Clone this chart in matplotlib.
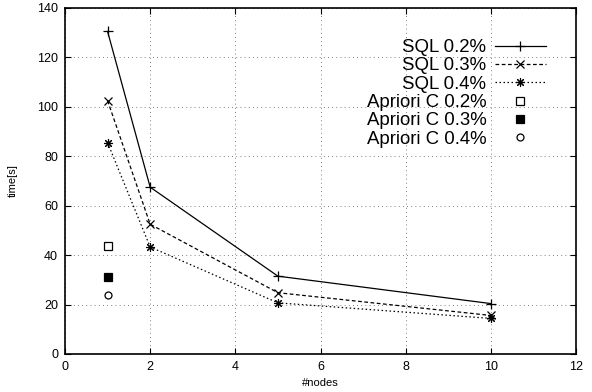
import matplotlib
matplotlib.use("Agg")
import matplotlib.pyplot as plt

plt.rcParams['font.family'] = ['Liberation Sans', 'DejaVu Sans']

nodes = [1, 2, 5, 10]
sql_02 = [130.5, 67.5, 31.5, 20.4]
sql_03 = [102.5, 52.5, 24.8, 15.6]
sql_04 = [85.5, 43.3, 20.7, 14.4]

apriori_x = [1]
apriori_02 = [43.8]
apriori_03 = [31.3]
apriori_04 = [23.8]

xticks = [0, 2, 4, 6, 8, 10, 12]
yticks = [0, 20, 40, 60, 80, 100, 120, 140]

fig = plt.figure(figsize=(5.92, 3.92), dpi=100)
ax = fig.add_axes([65/592, 1-354/392, (576-65)/592, (354-8)/392])

lw = 0.9
ax.plot(nodes, sql_02, color='black', lw=lw, ls='-', marker='+', ms=7, mew=0.9, label='SQL 0.2%')
ax.plot(nodes, sql_03, color='black', lw=lw, ls=(0, (3, 2)), marker='x', ms=5.5, mew=0.9, label='SQL 0.3%')
ax.plot(nodes, sql_04, color='black', lw=lw, ls=(0, (1.2, 2)), marker=(8, 2, 0), ms=6.5, mew=0.8, label='SQL 0.4%')
ax.plot(apriori_x, apriori_02, ls='none', marker='s', ms=5.5, mfc='white', mec='black', mew=0.9, label='Apriori C 0.2%')
ax.plot(apriori_x, apriori_03, ls='none', marker='s', ms=5.5, mfc='black', mec='black', mew=0.9, label='Apriori C 0.3%')
ax.plot(apriori_x, apriori_04, ls='none', marker='o', ms=5, mfc='white', mec='black', mew=0.9, label='Apriori C 0.4%')

ax.set_xlim(0, 12)
ax.set_ylim(0, 140)
ax.set_xticks(xticks)
ax.set_yticks(yticks)
ax.tick_params(direction='in', length=4, width=0.8, labelsize=9, top=True, right=True, pad=5)
ax.grid(True, color='#555555', ls=(0, (1, 4)), lw=0.6)
for s in ax.spines.values():
    s.set_linewidth(1.2)

ax.set_xlabel('#nodes', fontsize=8, labelpad=4)
ax.set_ylabel('time[s]', fontsize=8, labelpad=14)

leg = ax.legend(loc='upper right', bbox_to_anchor=((546-65)/511, (354-39)/346), frameon=False,
                markerfirst=False, fontsize=13.4, handlelength=2.75, handletextpad=0.45,
                labelspacing=0.07, borderpad=0, borderaxespad=0)

fig.savefig('out.png', dpi=100)
